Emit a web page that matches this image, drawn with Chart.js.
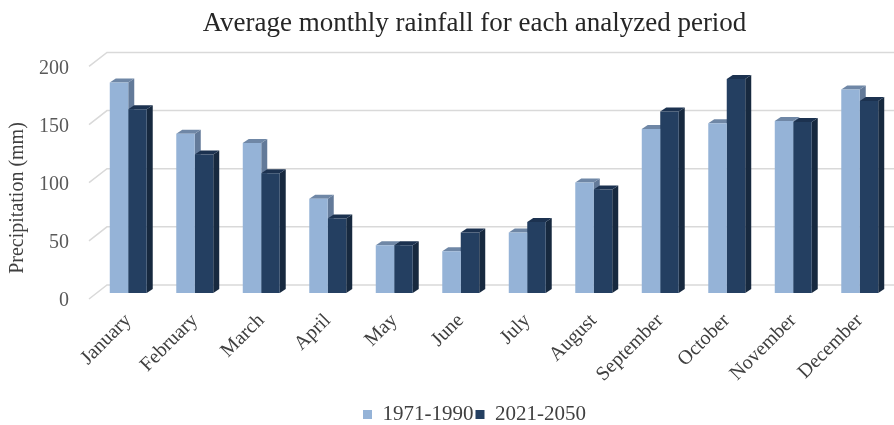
<!DOCTYPE html>
<html>
<head>
<meta charset="utf-8">
<script src="https://cdn.jsdelivr.net/npm/chart.js@4.4.1/dist/chart.umd.min.js"></script>
<style>
  html, body { margin: 0; padding: 0; background: #fff; }
  #wrap { width: 894px; height: 425px; position: relative; }
</style>
</head>
<body>
<div id="wrap"><canvas id="rainChart"></canvas></div>
<script>
// -------------------------------
// DATA
// -------------------------------
const months = ["January", "February", "March", "April", "May", "June",
  "July", "August", "September", "October", "November", "December"];
const rain1971 = [181, 137, 129, 81, 41, 36, 52, 95, 141, 146, 148, 175];
const rain2021 = [158, 119, 103, 64, 41, 52, 61, 89, 156, 184, 147, 165];
const yTicks = [0, 50, 100, 150, 200];
const seriesNames = ["1971-1990", "2021-2050"];

// front / top / side colours for the fake 3d columns
const frontColors = ["#95b3d7", "#243f61"];
const topColors = ["#6f87a6", "#1c3250"];
const sideColors = ["#637a99", "#17293f"];

const serif = "'Liberation Serif', 'Times New Roman', serif";
const depthX = 6;
const depthY = 4;

// -------------------------------
// 3D LOOK (back wall grid + column faces)
// -------------------------------
const fake3d = {
  id: "fake3d",
  beforeDatasetsDraw(chart) {
    const { ctx, chartArea: a } = chart;
    const y = chart.scales.y;
    ctx.save();

    // back wall gridlines with the slanted floor edge
    ctx.strokeStyle = "#d9d9d9";
    ctx.lineWidth = 1.5;
    yTicks.forEach(v => {
      const py = y.getPixelForValue(v);
      ctx.beginPath();
      ctx.moveTo(a.left - 6, py + 6);
      ctx.lineTo(a.left + 12, py - 8);
      ctx.lineTo(chart.width, py - 8);
      ctx.stroke();
    });

    // top and side faces, drawn behind the front faces
    chart.data.datasets.forEach((ds, i) => {
      const meta = chart.getDatasetMeta(i);
      meta.data.forEach(bar => {
        const p = bar.getProps(["x", "y", "base", "width"], true);
        const l = p.x - p.width / 2;
        const r = p.x + p.width / 2;
        ctx.fillStyle = sideColors[i];
        ctx.beginPath();
        ctx.moveTo(r, p.y);
        ctx.lineTo(r + depthX, p.y - depthY);
        ctx.lineTo(r + depthX, p.base - depthY);
        ctx.lineTo(r, p.base);
        ctx.closePath();
        ctx.fill();
        ctx.fillStyle = topColors[i];
        ctx.beginPath();
        ctx.moveTo(l, p.y);
        ctx.lineTo(l + depthX, p.y - depthY);
        ctx.lineTo(r + depthX, p.y - depthY);
        ctx.lineTo(r, p.y);
        ctx.closePath();
        ctx.fill();
      });
    });
    ctx.restore();
  },
  afterDraw(chart) {
    // y axis title, placed by hand left of the tick labels
    const ctx = chart.ctx;
    ctx.save();
    ctx.translate(18, 198);
    ctx.rotate(-Math.PI / 2);
    ctx.font = "20px " + serif;
    ctx.fillStyle = "#404040";
    ctx.textAlign = "center";
    ctx.textBaseline = "middle";
    ctx.fillText("Precipitation (mm)", 0, 0);
    ctx.restore();
  }
};

// -------------------------------
// CHART
// -------------------------------
const ctx = document.getElementById("rainChart").getContext("2d");

new Chart(ctx, {
  type: "bar",
  data: {
    labels: months,
    datasets: [
      {
        label: seriesNames[0],
        data: rain1971,
        backgroundColor: frontColors[0],
        borderWidth: 0,
      },
      {
        label: seriesNames[1],
        data: rain2021,
        backgroundColor: frontColors[1],
        borderWidth: 0,
      },
    ],
  },
  options: {
    responsive: true,
    maintainAspectRatio: false,
    animation: false,
    layout: { padding: { left: 56, right: 1, top: 0, bottom: -10 } },
    datasets: {
      bar: { categoryPercentage: 0.556, barPercentage: 1.0 },
    },
    scales: {
      x: {
        grid: { display: false, drawTicks: false },
        border: { display: false },
        ticks: {
          minRotation: 45,
          maxRotation: 45,
          padding: 16,
          labelOffset: 0,
          color: "#404040",
          font: { family: serif, size: 20 },
        },
        afterFit(scale) {
          scale.height = 109;
        },
      },
      y: {
        min: 0,
        max: 200,
        grid: { display: false, drawTicks: false },
        border: { display: false },
        ticks: {
          stepSize: 50,
          // mirrored + far aligned so the labels can sit left of the scale box
          mirror: true,
          crossAlign: "far",
          padding: -56,
          labelOffset: 8,
          color: "#595959",
          font: { family: serif, size: 20 },
        },
        afterFit(scale) {
          scale.width = 39;
        },
      },
    },
    plugins: {
      title: {
        display: true,
        text: "Average monthly rainfall for each analyzed period",
        color: "#262626",
        font: { family: serif, size: 27, weight: "normal" },
        padding: { top: 8, bottom: 20 },
      },
      legend: {
        position: "bottom",
        labels: {
          boxWidth: 9,
          boxHeight: 9,
          padding: 2,
          color: "#404040",
          font: { family: serif, size: 21 },
        },
      },
      tooltip: { enabled: false },
    },
  },
  plugins: [fake3d],
});
</script>
</body>
</html>
